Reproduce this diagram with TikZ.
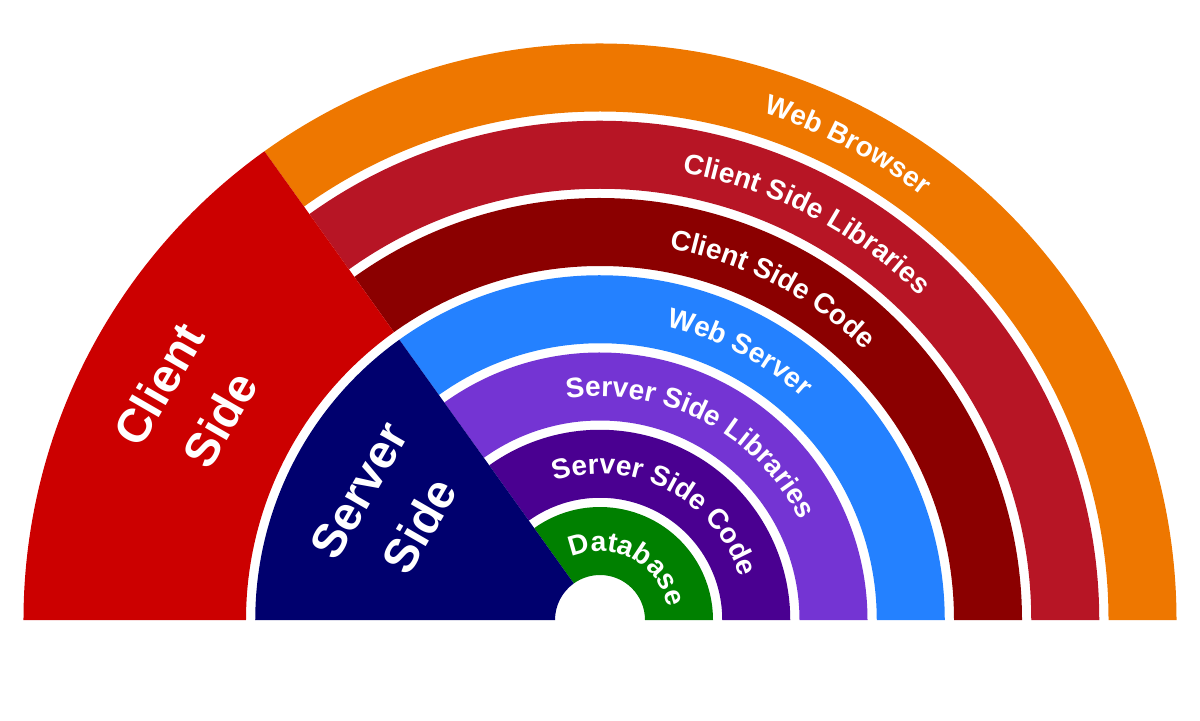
\documentclass[tikz,border=0pt]{standalone}
\usepackage{fontspec}
\setmainfont{Liberation Sans}
\usetikzlibrary{decorations.text}
\definecolor{cBrowser}{HTML}{EE7700}
\definecolor{cClientLib}{HTML}{B71525}
\definecolor{cClientCode}{HTML}{8B0000}
\definecolor{cWebServer}{HTML}{2481FF}
\definecolor{cServerLib}{HTML}{7434D3}
\definecolor{cServerCode}{HTML}{4A0091}
\definecolor{cDatabase}{HTML}{008000}
\definecolor{cClient}{HTML}{CC0000}
\definecolor{cServer}{HTML}{00006E}
\newcommand{\ringlabelfont}{\fontsize{16}{19}\selectfont\bfseries\color{white}}

\begin{document}
\begin{tikzpicture}[
    % ---------------------------------------------------------
    % ESTILOS
    % ---------------------------------------------------------
    ring text/.style={
        postaction={decorate},
        decoration={
            text along path,
            text align=center,
            text={|\ringlabelfont|#1}
        }
    },
    side label/.style={
        text=white,
        font=\fontsize{27}{40}\selectfont\bfseries,
        align=center,
        rotate=60,
        inner sep=0pt
    }
]
\useasboundingbox (-12,-2) rectangle (12,12.4);

% ---------------------------------------------------------
% 1. ANILLOS (0 a 125.6 grados)
% ---------------------------------------------------------
\fill[cDatabase]   (0:0.9)   arc (0:125.6:0.9)   -- (125.6:2.26)  arc (125.6:0:2.26)  -- cycle;
\fill[cServerCode] (0:2.445) arc (0:125.6:2.445) -- (125.6:3.805) arc (125.6:0:3.805) -- cycle;
\fill[cServerLib]  (0:3.99)  arc (0:125.6:3.99)  -- (125.6:5.35)  arc (125.6:0:5.35)  -- cycle;
\fill[cWebServer]  (0:5.535) arc (0:125.6:5.535) -- (125.6:6.895) arc (125.6:0:6.895) -- cycle;
\fill[cClientCode] (0:7.08)  arc (0:125.6:7.08)  -- (125.6:8.44)  arc (125.6:0:8.44)  -- cycle;
\fill[cClientLib]  (0:8.625) arc (0:125.6:8.625) -- (125.6:9.985) arc (125.6:0:9.985) -- cycle;
\fill[cBrowser]    (0:10.17) arc (0:125.6:10.17) -- (125.6:11.53) arc (125.6:0:11.53) -- cycle;

% ---------------------------------------------------------
% 2. SECTORES (Client / Server)
% ---------------------------------------------------------
\fill[cClient] (125.6:7.08) arc (125.6:180:7.08) -- (180:11.53) arc (180:125.6:11.53) -- cycle;
\fill[cServer] (125.6:0.9) arc (125.6:180:0.9) -- (180:6.895) arc (180:125.6:6.895) -- cycle;

% ---------------------------------------------------------
% 3. TEXTOS CURVOS
% ---------------------------------------------------------
\path[ring text={Database}]              (125:1.38)   arc (125:0:1.38);
\path[ring text={Server Side Code}]      (125:2.925)  arc (125:0:2.925);
\path[ring text={Server Side Libraries}] (125:4.47)   arc (125:0:4.47);
\path[ring text={Web Server}]            (125:6.015)  arc (125:0:6.015);
\path[ring text={Client Side Code}]      (125:7.56)   arc (125:0:7.56);
\path[ring text={Client Side Libraries}] (125:9.105)  arc (125:0:9.105);
\path[ring text={Web Browser}]           (125:10.65)  arc (125:0:10.65);

% ---------------------------------------------------------
% 4. ETIQUETAS DE LOS SECTORES
% ---------------------------------------------------------
\node[side label] (lblClient) at (152:9.3)  {Client\\Side};
\node[side label] (lblServer) at (152:4.77) {Server\\Side};

\end{tikzpicture}
\end{document}
